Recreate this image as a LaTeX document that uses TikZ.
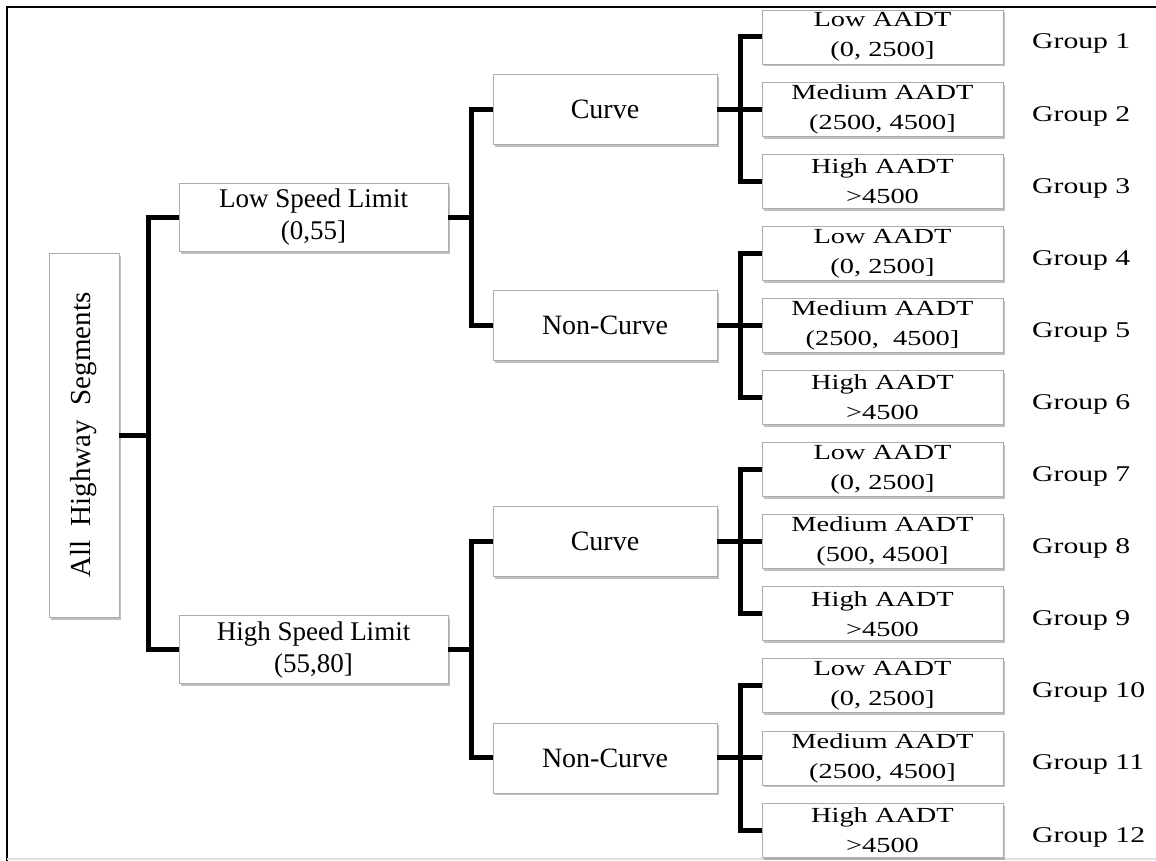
\documentclass[tikz,border=0pt]{standalone}
\usepackage{fontspec}
\setmainfont{Liberation Serif}
\newfontfamily\widefont{Liberation Serif}[FakeStretch=1.32]
\usetikzlibrary{shadows}
\begin{document}
\begin{tikzpicture}[x=1pt,y=-1pt,
  boxstyle/.style={draw=gray!65, line width=0.8pt, fill=white, inner sep=0pt, align=center,
    drop shadow={shadow xshift=2pt, shadow yshift=-2.5pt, opacity=0.5, fill=gray}},
  leafbox/.style={boxstyle, minimum width=241pt, minimum height=54pt,
    font=\widefont\fontsize{21.5}{30}\selectfont},
  midbox/.style={boxstyle, minimum width=224pt, minimum height=70pt,
    font=\fontsize{28}{32}\selectfont},
  speedbox/.style={boxstyle, minimum width=269pt, minimum height=68pt,
    font=\fontsize{27}{32}\selectfont},
  grouplabel/.style={anchor=base west, inner sep=0pt,
    font=\widefont\fontsize{22.5}{26}\selectfont},
  conn/.style={line width=5pt, black, line join=miter}]
\useasboundingbox (0,0) rectangle (1156,861);
% frame
\draw[line width=2.5pt] (7,861) -- (7,7) -- (1156,7);
\draw[gray!25, line width=2pt] (7,859) -- (1156,859);

% root
\node[boxstyle, minimum width=70pt, minimum height=364pt,
  font=\fontsize{29}{32}\selectfont] (root) at (84,435)
  {\rotatebox{90}{All\ \ Highway\ \ Segments}};

% speed level
\node[speedbox] (low) at (313.5,217.25) {Low Speed Limit\\(0,55]};
\node[speedbox] (high) at (313.5,649.75) {High Speed Limit\\(55,80]};

% curve level
\node[midbox] (c1) at (605,109.1) {Curve};
\node[midbox] (n1) at (605,325.4) {Non-Curve};
\node[midbox] (c2) at (605,541.6) {Curve};
\node[midbox] (n2) at (605,757.9) {Non-Curve};

% leaves
\node[leafbox] (l1) at (882.5,37) {Low AADT\\(0, 2500]};
\node[leafbox] (l2) at (882.5,109.1) {Medium AADT\\(2500, 4500]};
\node[leafbox] (l3) at (882.5,181.2) {High AADT\\>4500};
\node[leafbox] (l4) at (882.5,253.3) {Low AADT\\(0, 2500]};
\node[leafbox] (l5) at (882.5,325.4) {Medium AADT\\(2500,\ \ 4500]};
\node[leafbox] (l6) at (882.5,397.5) {High AADT\\>4500};
\node[leafbox] (l7) at (882.5,469.5) {Low AADT\\(0, 2500]};
\node[leafbox] (l8) at (882.5,541.6) {Medium AADT\\(500, 4500]};
\node[leafbox] (l9) at (882.5,613.7) {High AADT\\>4500};
\node[leafbox] (l10) at (882.5,685.8) {Low AADT\\(0, 2500]};
\node[leafbox] (l11) at (882.5,757.9) {Medium AADT\\(2500, 4500]};
\node[leafbox] (l12) at (882.5,830) {High AADT\\>4500};

% group labels
\node[grouplabel] (g1) at (1032,49) {Group 1};
\node[grouplabel] (g2) at (1032,121.1) {Group 2};
\node[grouplabel] (g3) at (1032,193.2) {Group 3};
\node[grouplabel] (g4) at (1032,265.3) {Group 4};
\node[grouplabel] (g5) at (1032,337.4) {Group 5};
\node[grouplabel] (g6) at (1032,409.5) {Group 6};
\node[grouplabel] (g7) at (1032,481.5) {Group 7};
\node[grouplabel] (g8) at (1032,553.6) {Group 8};
\node[grouplabel] (g9) at (1032,625.7) {Group 9};
\node[grouplabel] (g10) at (1032,697.8) {Group 10};
\node[grouplabel] (g11) at (1032,769.9) {Group 11};
\node[grouplabel] (g12) at (1032,842) {Group 12};

% junction coordinates
\coordinate (j0) at (148,435);
\coordinate (ja) at (471,217.25);
\coordinate (jb) at (471,649.75);
\coordinate (jc1) at (740,109.1);
\coordinate (jn1) at (740,325.4);
\coordinate (jc2) at (740,541.6);
\coordinate (jn2) at (740,757.9);

% connectors level 1
\draw[conn] (root.east) -- (root.east -| j0);
\draw[conn] (low.west) -- (low.west -| j0) -- (high.west -| j0) -- (high.west);
% level 2
\draw[conn] (low.east) -- (low.east -| ja);
\draw[conn] (c1.west) -- (c1.west -| ja) -- (n1.west -| ja) -- (n1.west);
\draw[conn] (high.east) -- (high.east -| jb);
\draw[conn] (c2.west) -- (c2.west -| jb) -- (n2.west -| jb) -- (n2.west);
% level 3
\draw[conn] (c1.east) -- (l2.west);
\draw[conn] (l1.west) -- (l1.west -| jc1) -- (l3.west -| jc1) -- (l3.west);
\draw[conn] (n1.east) -- (l5.west);
\draw[conn] (l4.west) -- (l4.west -| jn1) -- (l6.west -| jn1) -- (l6.west);
\draw[conn] (c2.east) -- (l8.west);
\draw[conn] (l7.west) -- (l7.west -| jc2) -- (l9.west -| jc2) -- (l9.west);
\draw[conn] (n2.east) -- (l11.west);
\draw[conn] (l10.west) -- (l10.west -| jn2) -- (l12.west -| jn2) -- (l12.west);
\end{tikzpicture}
\end{document}
